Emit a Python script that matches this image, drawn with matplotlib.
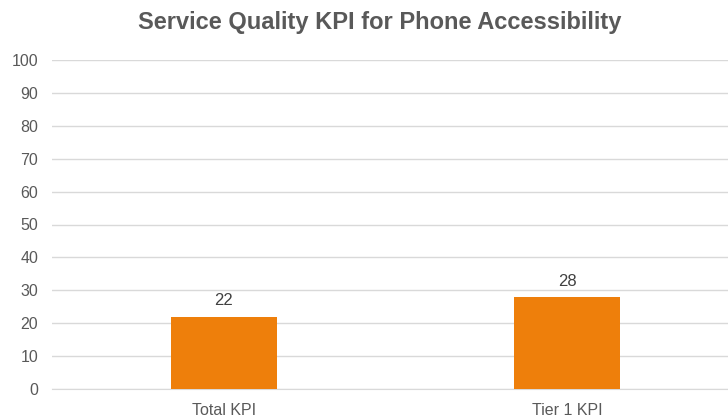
import matplotlib
matplotlib.use('Agg')
import matplotlib.pyplot as plt

plt.rcParams['font.family'] = ['Liberation Sans', 'DejaVu Sans']

categories = ['Total KPI', 'Tier 1 KPI']
values = [22, 28]

GREY = '#595959'
ORANGE = '#EE7F0B'

fig = plt.figure(figsize=(7.28, 4.17), dpi=100)
ax = fig.add_axes([52 / 728, 28 / 417, 687 / 728, 329 / 417])

x = range(len(categories))
bars = ax.bar(x, values, width=0.31, color=ORANGE, zorder=3)
for b, v in zip(bars, values):
    ax.text(b.get_x() + b.get_width() / 2, v + 2.5, str(v), ha='center', va='bottom',
            fontsize=12, color='#404040')

ax.set_xlim(-0.5, 1.5)
ax.set_ylim(0, 100)
ax.set_yticks(range(0, 101, 10))
ax.set_xticks(list(x))
ax.set_xticklabels(categories)
ax.tick_params(axis='both', length=0, colors=GREY)
ax.tick_params(axis='y', pad=10, labelsize=11.5)
ax.tick_params(axis='x', pad=10, labelsize=11.5)
ax.grid(axis='y', color='#D9D9D9', linewidth=1, zorder=0)
for s in ax.spines.values():
    s.set_visible(False)
ax.spines['bottom'].set_visible(True)
ax.spines['bottom'].set_color('#D9D9D9')

fig.text(380 / 728, 1 - 22 / 417, 'Service Quality KPI for Phone Accessibility', ha='center', va='center',
         fontsize=17, fontweight='bold', color=GREY)

fig.savefig('out.png', dpi=100)
